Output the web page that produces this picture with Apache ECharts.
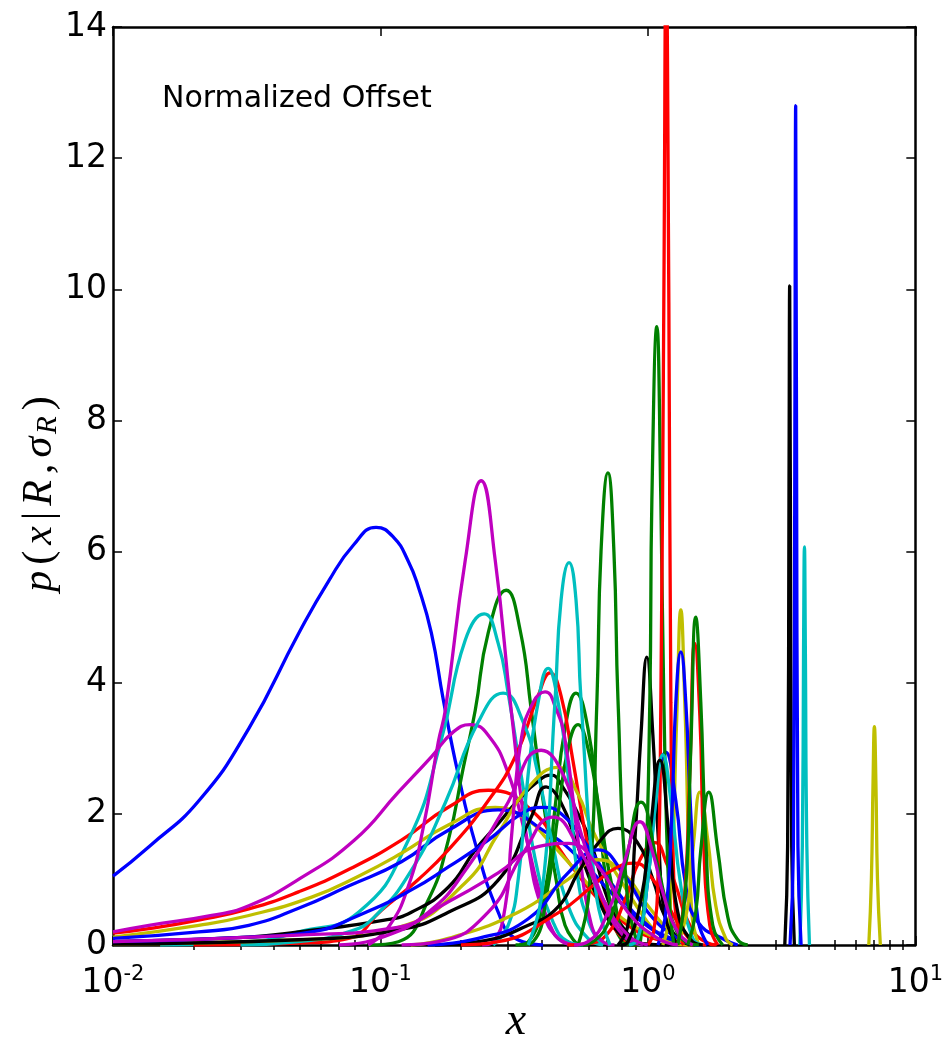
<!DOCTYPE html>
<html><head><meta charset="utf-8">
<script src="https://cdn.jsdelivr.net/npm/echarts@6/dist/echarts.min.js"></script>
<style>html,body{margin:0;padding:0;background:#fff}#c{width:946px;height:1040px}</style>
</head><body><div id="c"></div>
<script>
// ---- axis ticks ----
const xMajorTicks = [0.01, 0.1, 1, 10];
const xMinorTicks = [0.02,0.03,0.04,0.05,0.06,0.07,0.08,0.09,0.2,0.3,0.4,0.5,0.6,0.7,0.8,0.9,2,3,4,5,6,7,8,9];
const yMin = 0, yMax = 14, yStep = 2;

// ---- curves [x, p] ----
const blue1 = [[0.0100,1.05],[0.01363,1.5],[0.02094,2.2],[0.03218,3.3],[0.04943,4.75],[0.0640,5.55],[0.0793,6.1],[0.0963,6.37],[0.1118,6.22],[0.1272,5.85],[0.1386,5.46],[0.155,4.76],[0.1718,3.74],[0.1954,2.6],[0.2262,1.55],[0.2756,0.5],[0.319,0.1],[0.4057,0]];
const blue2 = [[3.40,0],[3.50,1.5],[3.545,8],[3.57,12.8],[3.595,8],[3.64,1.5],[3.74,0]];
const blue3 = [[1.090,0],[1.167,0.5],[1.229,2.0],[1.272,3.7],[1.328,4.47],[1.386,3.7],[1.447,2.0],[1.537,0.4],[1.675,0]];
const blue4 = [[0.85,0],[0.918,0.1],[1.0,1.0],[1.071,2.2],[1.167,2.94],[1.272,2.2],[1.386,0.9],[1.537,0.35],[1.938,0.08],[2.167,0]];
const blue5 = [[0.01,0.1],[0.0209,0.2],[0.0322,0.3],[0.0494,0.56],[0.076,0.9],[0.1198,1.27],[0.1794,1.75],[0.2756,2.06],[0.4236,1.7],[0.548,1.34],[0.709,0.85],[0.918,0.4],[1.188,0.12],[1.537,0]];
const blue6 = [[0.01,0.05],[0.0322,0.12],[0.0553,0.2],[0.0828,0.45],[0.1305,0.84],[0.1794,1.19],[0.2529,1.6],[0.336,2.0],[0.406,2.1],[0.474,2.0],[0.597,1.5],[0.773,0.8],[1.0,0.3],[1.294,0.05],[1.6,0]];
const blue7 = [[0.15,0],[0.232,0.1],[0.357,0.4],[0.503,1.1],[0.651,1.45],[0.807,1.1],[1.0,0.5],[1.294,0.1],[1.537,0]];

const black1 = [[3.25,0],[3.33,1.5],[3.37,7],[3.39,10.05],[3.41,7],[3.45,1.5],[3.53,0]];
const black2 = [[0.01,0.05],[0.0322,0.12],[0.0494,0.2],[0.1035,0.38],[0.1305,0.5],[0.1794,0.88],[0.2262,1.45],[0.2756,1.85],[0.3273,2.21],[0.3887,2.5],[0.4346,2.59],[0.4818,2.4],[0.548,2.0],[0.6128,1.56],[0.709,0.69],[0.821,0.23],[0.958,0.02],[1.2,0]];
const black3 = [[0.01,0.02],[0.0494,0.08],[0.1167,0.23],[0.1794,0.5],[0.2756,0.99],[0.366,1.95],[0.4163,2.41],[0.4695,2.2],[0.548,1.5],[0.651,0.7],[0.773,0.2],[0.918,0]];
const black4 = [[0.16,0],[0.232,0.05],[0.357,0.3],[0.4615,0.58],[0.548,1.1],[0.651,1.55],[0.773,1.78],[0.918,1.55],[1.044,1.0],[1.167,0.4],[1.351,0.05],[1.5,0]];
const black5 = [[0.773,0],[0.842,0.3],[0.894,1.6],[0.942,3.2],[0.991,4.39],[1.044,3.2],[1.099,1.5],[1.167,0.4],[1.294,0]];
const black6 = [[0.79,0],[0.842,0.05],[0.942,0.69],[1.017,1.7],[1.109,2.82],[1.198,1.7],[1.294,0.5],[1.447,0.08],[1.604,0]];

const red1 = [[1.0,0],[1.05,0.2],[1.09,1],[1.118,3.7],[1.147,9.8],[1.17,15],[1.198,9.8],[1.219,3.7],[1.25,1],[1.30,0.2],[1.36,0]];
const red2 = [[0.01,0.18],[0.01363,0.25],[0.0209,0.38],[0.0322,0.55],[0.0494,0.81],[0.076,1.15],[0.1198,1.6],[0.1794,2.1],[0.2529,2.36],[0.366,2.06],[0.490,1.34],[0.651,0.7],[0.842,0.3],[1.090,0.08],[1.41,0]];
const red3 = [[0.02,0],[0.05,0.03],[0.076,0.1],[0.1009,0.53],[0.1386,1.0],[0.1794,1.45],[0.2529,2.2],[0.319,2.87],[0.3887,3.8],[0.4309,4.15],[0.4736,3.8],[0.525,2.8],[0.597,1.5],[0.6795,0.6],[0.807,0.1],[0.918,0]];
const red4 = [[1.294,0],[1.374,0.8],[1.434,2.6],[1.497,4.6],[1.564,3.5],[1.618,1.5],[1.704,0.3],[1.825,0]];
const red5 = [[0.5,0],[0.597,0.02],[0.709,0.18],[0.821,0.69],[0.934,1.3],[1.062,1.56],[1.188,1.2],[1.261,0.95],[1.447,0.27],[1.675,0.03],[1.8,0]];
const red6 = [[0.2,0],[0.2756,0.05],[0.4615,0.49],[0.6128,0.88],[0.740,1.15],[0.894,1.25],[1.044,1.0],[1.157,0.69],[1.374,0.18],[1.537,0.02],[1.65,0]];

const green1 = [[0.934,0],[0.9745,0.8],[1.017,3.74],[1.035,6.79],[1.080,9.43],[1.118,6.79],[1.147,3.74],[1.198,0.8],[1.25,0]];
const green2 = [[0.548,0],[0.6024,0.8],[0.645,3.74],[0.668,6.0],[0.709,7.2],[0.7465,6.0],[0.773,3.74],[0.835,0.8],[0.918,0]];
const green3 = [[0.09,0],[0.1167,0.05],[0.1511,0.69],[0.1794,1.6],[0.204,2.7],[0.2262,3.58],[0.2529,4.76],[0.2953,5.41],[0.333,4.8],[0.366,3.6],[0.4057,2.2],[0.4537,1.0],[0.490,0.3],[0.548,0]];
const green4 = [[0.32,0],[0.357,0.05],[0.4128,0.84],[0.4498,2.1],[0.490,3.3],[0.5387,3.84],[0.597,3.3],[0.651,2.1],[0.709,0.84],[0.807,0.05],[0.9,0]];
const green5 = [[0.33,0],[0.3723,0.05],[0.4236,0.9],[0.4615,2.0],[0.503,3.0],[0.548,3.36],[0.597,3.0],[0.662,2.0],[0.734,0.9],[0.842,0.05],[0.93,0]];
const green6 = [[0.56,0],[0.6234,0.05],[0.7275,0.43],[0.821,1.2],[0.942,2.18],[1.090,1.2],[1.219,0.43],[1.41,0.03],[1.55,0]];
const green7 = [[1.294,0],[1.386,0.9],[1.447,3.0],[1.510,5.0],[1.577,3.7],[1.646,1.6],[1.748,0.3],[1.905,0]];
const green8 = [[1.41,0],[1.510,0.5],[1.577,1.45],[1.689,2.33],[1.825,1.45],[1.989,0.43],[2.167,0.08],[2.362,0]];

const cyan1 = [[3.70,0],[3.78,1.5],[3.82,4.5],[3.85,6.07],[3.88,4.5],[3.93,1.5],[4.02,0]];
const cyan2 = [[0.015,0],[0.0322,0.05],[0.0494,0.2],[0.0828,0.5],[0.1272,1.6],[0.1689,3.13],[0.2076,4.65],[0.2443,5.05],[0.2756,4.6],[0.3003,3.84],[0.3417,2.4],[0.3887,1.1],[0.4421,0.35],[0.503,0.05],[0.572,0]];
const cyan3 = [[0.03,0],[0.0494,0.05],[0.076,0.2],[0.095,0.43],[0.1305,1.14],[0.1748,2.17],[0.2321,3.4],[0.2877,3.84],[0.3417,3.4],[0.3887,2.6],[0.4421,1.5],[0.503,0.6],[0.597,0.1],[0.6795,0]];
const cyan4 = [[0.264,0],[0.3003,0.3],[0.3273,1.0],[0.3566,2.6],[0.3887,3.7],[0.4236,4.22],[0.4615,3.7],[0.503,2.6],[0.548,1.0],[0.6075,0.3],[0.6795,0]];
const cyan5 = [[0.3566,0],[0.4022,0.8],[0.4498,3.74],[0.4736,5.26],[0.5073,5.83],[0.5387,5.26],[0.5623,3.74],[0.6397,0.8],[0.7215,0]];
const cyan6 = [[0.85,0],[0.918,0.1],[1.0,1.0],[1.071,2.2],[1.1375,2.9],[1.219,2.2],[1.328,0.9],[1.472,0.1],[1.6,0]];

const mag1 = [[0.09,0],[0.1071,0.27],[0.1272,0.9],[0.1447,1.8],[0.1646,3.1],[0.1748,3.58],[0.2076,5.87],[0.2381,7.08],[0.2686,5.87],[0.3083,3.58],[0.3566,1.5],[0.4057,0.5],[0.4615,0.1],[0.525,0]];
const mag2 = [[0.01,0.2],[0.01363,0.3],[0.0234,0.45],[0.0322,0.6],[0.0494,1.0],[0.08,1.6],[0.1167,2.33],[0.155,2.87],[0.1873,3.25],[0.2167,3.36],[0.2529,3.2],[0.3003,2.62],[0.3476,1.7],[0.3887,0.88],[0.4309,0.3],[0.4818,0.05],[0.548,0]];
const mag3 = [[0.24,0],[0.264,0.05],[0.2927,0.58],[0.3083,1.6],[0.3359,3.13],[0.3723,3.7],[0.4128,3.86],[0.4537,3.6],[0.4901,3.13],[0.548,1.6],[0.6128,0.33],[0.6795,0.05],[0.75,0]];
const mag4 = [[0.07,0],[0.0983,0.1],[0.1511,0.5],[0.213,1.2],[0.2927,2.1],[0.3988,2.97],[0.4818,2.6],[0.5722,1.6],[0.6795,0.7],[0.807,0.15],[0.958,0]];
const mag5 = [[0.53,0],[0.597,0.05],[0.709,0.5],[0.821,1.3],[0.934,1.88],[1.044,1.4],[1.1375,0.8],[1.294,0.2],[1.472,0]];
const mag6 = [[0.12,0],[0.1646,0.05],[0.2529,0.5],[0.3417,1.4],[0.4421,1.95],[0.548,1.5],[0.6795,0.7],[0.842,0.15],[1.0,0]];
const mag7 = [[0.01,0.05],[0.0494,0.15],[0.1128,0.26],[0.1794,0.66],[0.2756,1.1],[0.3887,1.5],[0.503,1.55],[0.651,1.2],[0.842,0.5],[1.09,0.1],[1.294,0]];

const yel1 = [[6.7,0],[6.85,1],[6.95,2.5],[7.03,3.33],[7.12,2.5],[7.22,1],[7.40,0]];
const yel2 = [[1.1375,0],[1.208,0.5],[1.283,3.5],[1.328,5.11],[1.374,3.7],[1.459,0.5],[1.550,0]];
const yel3 = [[1.294,0],[1.41,0.6],[1.485,1.6],[1.564,2.33],[1.675,1.6],[1.794,0.6],[1.955,0.1],[2.076,0]];
const yel4 = [[0.01,0.02],[0.0494,0.08],[0.1167,0.27],[0.2076,0.95],[0.2756,1.7],[0.3566,2.4],[0.4615,2.71],[0.548,2.3],[0.6128,1.8],[0.709,1.3],[0.821,0.88],[0.958,0.45],[1.09,0.18],[1.294,0.03],[1.5,0]];
const yel5 = [[0.01,0.12],[0.0209,0.3],[0.0322,0.45],[0.0553,0.73],[0.0828,1.05],[0.1198,1.4],[0.1794,1.83],[0.2686,2.1],[0.3566,1.9],[0.4236,1.6],[0.548,1.1],[0.709,0.6],[0.918,0.25],[1.188,0.05],[1.41,0]];
const yel6 = [[0.13,0],[0.1794,0.1],[0.3273,0.5],[0.503,1.0],[0.651,1.3],[0.807,1.1],[1.0,0.6],[1.24,0.15],[1.41,0]];

// ---- styling ----
const B='#0000ff', G='#008000', R='#ff0000', C='#00bfbf', M='#bf00bf', Y='#bfbf00', K='#000000';
const curves = [
  [blue1,B],[green3,G],[red2,R],[cyan2,C],[mag2,M],[yel5,Y],[black2,K],
  [blue5,B],[green4,G],[red3,R],[cyan3,C],[mag1,M],[yel4,Y],[black3,K],
  [blue6,B],[green5,G],[red5,R],[cyan4,C],[mag3,M],[yel6,Y],[black4,K],
  [blue7,B],[green2,G],[red6,R],[cyan5,C],[mag4,M],[yel2,Y],[black5,K],
  [blue4,B],[green1,G],[red1,R],[cyan6,C],[mag6,M],[yel3,Y],[black6,K],
  [blue3,B],[green6,G],[red4,R],[cyan1,C],[mag5,M],[yel1,Y],[black1,K],
  [blue2,B],[green7,G],[green8,G],[mag7,M]
];

const chart = echarts.init(document.getElementById('c'), null, {renderer:'canvas'});
const tickLine = {color:'#000', width:1.5};
const spine = {color:'#000', width:2.5};
const logAxis = (extra) => Object.assign({
  type:'log', logBase:10, min:0.01, max:10, splitLine:{show:false}, minorTick:{show:false}
}, extra);
const serif = 'Liberation Serif';
const tok = (sz) => ({fontFamily:serif, fontStyle:'italic', fontSize:sz, fill:'#000', color:'#000', padding:[0,3]});

const option = {
  animation:false,
  backgroundColor:'#fff',
  grid:{left:113, right:29, top:27, bottom:95, containLabel:false},
  xAxis:[
    logAxis({position:'bottom',
      axisLine:{show:true,onZero:false,lineStyle:spine},
      axisTick:{show:true,inside:true,length:9,lineStyle:tickLine,customValues:xMajorTicks},
      axisLabel:{show:true,customValues:xMajorTicks,margin:19,
        formatter:(v)=>'{b|10}{s|'+Math.round(Math.log10(v))+'}',
        rich:{b:{fontSize:33,fontFamily:'DejaVu Sans',color:'#000',lineHeight:38},
              s:{fontSize:21,fontFamily:'DejaVu Sans',color:'#000',lineHeight:20,verticalAlign:'top'}}}}),
    logAxis({position:'bottom',
      axisLine:{show:false},
      axisTick:{show:true,inside:true,length:5,lineStyle:tickLine,customValues:xMinorTicks},
      axisLabel:{show:false}}),
    logAxis({position:'top',
      axisLine:{show:true,onZero:false,lineStyle:spine},
      axisTick:{show:true,inside:true,length:9,lineStyle:tickLine,customValues:xMajorTicks},
      axisLabel:{show:false}}),
    logAxis({position:'top',
      axisLine:{show:false},
      axisTick:{show:true,inside:true,length:5,lineStyle:tickLine,customValues:xMinorTicks},
      axisLabel:{show:false}})
  ],
  yAxis:[
    {type:'value', min:yMin, max:yMax, interval:yStep, position:'left',
      axisLine:{show:true,onZero:false,lineStyle:spine},
      axisTick:{show:true,inside:true,length:9,lineStyle:tickLine},
      axisLabel:{fontSize:33,fontFamily:'DejaVu Sans',color:'#000',margin:6},
      splitLine:{show:false}},
    {type:'value', min:yMin, max:yMax, interval:yStep, position:'right',
      axisLine:{show:true,onZero:false,lineStyle:spine},
      axisTick:{show:true,inside:true,length:9,lineStyle:tickLine},
      axisLabel:{show:false}, splitLine:{show:false}}
  ],
  graphic:[
    {type:'text', left:162, top:84, silent:true,
      style:{text:'Normalized Offset', fontFamily:'DejaVu Sans', fontSize:30, fill:'#000'}},
    {type:'text', x:516, y:1022, silent:true,
      style:{text:'x', fontFamily:serif, fontStyle:'italic', fontSize:46, fill:'#000', align:'center', verticalAlign:'middle'}},
    {type:'text', x:40, y:494, rotation:Math.PI/2, silent:true,
      style:{text:'{i|p}{u|(}{i|x}{u||}{i|R}{u|,}{i|σ}{s|R}{u|)}', align:'center', verticalAlign:'middle',
        rich:{
          i:Object.assign(tok(42),{lineHeight:46}),
          u:Object.assign(tok(42),{fontStyle:'normal',lineHeight:46}),
          s:Object.assign(tok(29),{lineHeight:30,verticalAlign:'bottom',padding:[0,3,0,0]})
        }}}
  ],
  series: curves.map(([d,c]) => ({
    type:'line', data:d, xAxisIndex:0, yAxisIndex:0, symbol:'none', showSymbol:false,
    smooth:0.5, clip:true, silent:true,
    lineStyle:{color:c, width:3.3}
  }))
};
chart.setOption(option);
</script>
</body></html>
